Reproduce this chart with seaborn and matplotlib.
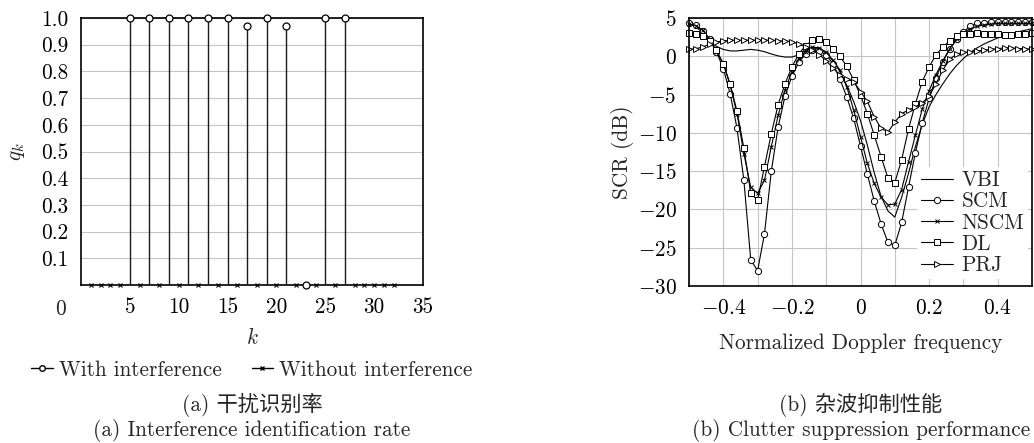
import numpy as np
import pandas as pd
import matplotlib
matplotlib.use('Agg')
import matplotlib.pyplot as plt
import seaborn as sns
from matplotlib.lines import Line2D
from matplotlib.ticker import MultipleLocator, FixedLocator

# (a) interference identification rate
k_with = [5, 7, 9, 11, 13, 15, 17, 19, 21, 23, 25, 27]
q_with = [1.0, 1.0, 1.0, 1.0, 1.0, 1.0, 0.97, 1.0, 0.97, 0.0, 1.0, 1.0]
k_without = [1, 2, 3, 4, 6, 8, 10, 12, 14, 16, 18, 20, 22, 24, 26, 28, 29, 30, 31, 32]
q_without = [0, 0, 0, 0, 0, 0, 0, 0, 0, 0, 0, 0, 0, 0, 0, 0, 0, 0, 0, 0]

# (b) clutter suppression performance
freq = [-0.50, -0.48, -0.46, -0.44, -0.42, -0.40, -0.38, -0.36, -0.34, -0.32,
        -0.30, -0.28, -0.26, -0.24, -0.22, -0.20, -0.18, -0.16, -0.14, -0.12,
        -0.10, -0.08, -0.06, -0.04, -0.02, 0.00, 0.02, 0.04, 0.06, 0.08,
        0.10, 0.12, 0.14, 0.16, 0.18, 0.20, 0.22, 0.24, 0.26, 0.28,
        0.30, 0.32, 0.34, 0.36, 0.38, 0.40, 0.42, 0.44, 0.46, 0.48, 0.50]
vbi = [4.3, 3.9, 3.0, 2.0, 1.3, 0.9, 0.7, 0.7, 0.8, 0.9,
       0.8, 0.6, 0.3, 0.05, -0.1, -0.1, 0.2, 0.8, 1.1, 1.0,
       0.4, -0.6, -2.0, -3.8, -5.9, -8.4, -11.6, -15.2, -18.3, -20.2,
       -21.0, -18.4, -15.3, -11.8, -8.9, -6.6, -5.0, -3.6, -2.3, -1.2,
       -0.3, 0.5, 1.1, 1.6, 2.0, 2.4, 2.7, 3.0, 3.2, 3.4, 3.6]
scm = [4.4, 4.1, 3.3, 2.2, 0.6, -1.6, -4.9, -9.4, -16.2, -26.6,
       -28.0, -23.2, -15.0, -9.2, -5.2, -2.6, -0.8, 0.3, 0.8, 0.7,
       0.2, -1.0, -3.0, -5.3, -8.1, -11.7, -15.4, -18.9, -21.9, -24.3,
       -24.7, -21.7, -17.1, -12.6, -8.7, -5.5, -2.8, -0.7, 0.9, 2.2,
       3.2, 3.9, 4.3, 4.4, 4.5, 4.5, 4.5, 4.5, 4.5, 4.5, 4.5]
nscm = [4.2, 4.0, 3.4, 2.3, 0.6, -0.9, -3.8, -7.5, -12.7, -17.1,
        -17.9, -16.2, -11.8, -7.7, -4.4, -2.0, -0.4, 0.6, 1.2, 1.1,
        0.5, -0.5, -1.8, -4.0, -7.0, -10.5, -14.0, -16.6, -18.4, -19.4,
        -19.3, -17.4, -13.8, -10.3, -6.9, -4.5, -2.4, -0.6, 1.0, 2.2,
        3.0, 3.6, 3.9, 4.1, 4.2, 4.3, 4.3, 4.3, 4.3, 4.3, 4.3]
dl = [3.0, 2.9, 2.6, 2.0, 0.8, -1.0, -3.6, -7.2, -12.0, -17.9,
      -18.8, -14.4, -10.1, -6.3, -3.6, -1.4, 0.3, 1.4, 2.1, 2.3,
      1.9, 1.0, 0.0, -1.3, -3.1, -5.1, -7.5, -10.3, -13.1, -15.9,
      -16.5, -13.5, -9.5, -6.2, -3.3, -1.4, 0.2, 1.2, 2.0, 2.6,
      2.9, 2.9, 3.0, 2.9, 2.9, 2.9, 2.8, 2.8, 2.9, 2.9, 3.0]
prj = [0.9, 1.0, 1.2, 1.6, 1.9, 2.0, 2.1, 2.1, 2.1, 2.1,
       2.1, 2.1, 2.1, 2.0, 2.0, 1.9, 1.6, 1.2, 0.8, 0.2,
       -0.6, -1.5, -2.5, -3.0, -3.3, -4.6, -5.9, -7.9, -9.4, -9.9,
       -8.6, -7.5, -7.0, -6.6, -6.1, -5.2, -3.6, -1.8, -0.4, 0.3,
       0.5, 0.6, 0.7, 0.8, 0.9, 1.0, 1.1, 1.1, 1.0, 1.0, 0.9]

sns.set_theme(style='whitegrid')
plt.rcParams['font.family'] = ['cmr10', 'Noto Sans CJK SC', 'DejaVu Sans']
plt.rcParams['mathtext.fontset'] = 'cm'
plt.rcParams['axes.formatter.use_mathtext'] = True
FS = 15.3

fig = plt.figure(figsize=(10.34, 4.43), dpi=100)
W, H = 1034, 443
ax1 = fig.add_axes([81 / W, 1 - 285 / H, (423 - 81) / W, (285 - 18) / H])
ax2 = fig.add_axes([689 / W, 1 - 286 / H, (1032 - 689) / W, (286 - 18) / H])

for ax in (ax1, ax2):
    ax.set_facecolor('white')
    for s in ax.spines.values():
        s.set_color('black')
        s.set_linewidth(1.2)
    ax.grid(True, which='both', color='#c4c4c4', linewidth=0.8)
    ax.tick_params(which='both', direction='in', length=0, labelsize=FS, colors='black', pad=9)

# ---- left: stems ----
ax1.vlines(k_with, 0, q_with, color='#1a1a1a', linewidth=1.0, zorder=3)
sns.lineplot(x=k_with, y=q_with, ax=ax1, linestyle='', marker='o', markersize=5,
             markerfacecolor='white', markeredgecolor='black', markeredgewidth=0.9,
             color='black', clip_on=False, zorder=4)
sns.lineplot(x=k_without, y=q_without, ax=ax1, linestyle='', marker='x', markersize=3,
             markeredgecolor='black', markeredgewidth=0.8, color='black',
             clip_on=False, zorder=4)
ax1.set_xlim(0, 35)
ax1.set_ylim(0, 1.0)
ax1.set_xticks([5, 10, 15, 20, 25, 30, 35])
ax1.xaxis.set_minor_locator(FixedLocator([10, 20, 30]))
ax1.grid(False, axis='x', which='major')
ax1.grid(True, axis='x', which='minor', color='#c4c4c4', linewidth=0.8)
ax1.set_yticks([0.1, 0.2, 0.3, 0.4, 0.5, 0.6, 0.7, 0.8, 0.9, 1.0])
ax1.yaxis.set_major_formatter(plt.FuncFormatter(lambda v, p: f'{v:.1f}'))
ax1.xaxis.set_major_formatter(plt.FuncFormatter(lambda v, p: f'{v:.0f}'))
ax1.text(61 / W, 1 - 309 / H, '0', transform=fig.transFigure, ha='center', va='center', fontsize=FS)
ax1.set_xlabel('$k$', fontsize=FS)
ax1.xaxis.set_label_coords(0.5, -(338 - 285) / 267)
ax1.xaxis.label.set_va('center')
ax1.set_ylabel('$q_k$', fontsize=FS)
ax1.yaxis.set_label_coords(-(81 - 17) / 342, 0.5)
ax1.yaxis.label.set_va('center')

h_with = Line2D([], [], color='black', lw=1.0, marker='o', markersize=4,
                markerfacecolor='white', markeredgecolor='black')
h_without = Line2D([], [], color='black', lw=1.0, marker='x', markersize=3)
ax1.legend([h_with, h_without], ['With interference', 'Without interference'],
           loc='center', bbox_to_anchor=(0.5, -(370 - 285) / 267), ncol=2, frameon=False,
           fontsize=FS, handlelength=1.0, handletextpad=0.3, columnspacing=1.4)

# ---- right: SCR curves ----
curves = pd.DataFrame({'freq': freq, 'VBI': vbi, 'SCM': scm, 'NSCM': nscm, 'DL': dl, 'PRJ': prj})
styles = {'VBI': (None, 0), 'SCM': ('o', 4.5), 'NSCM': ('x', 3.5), 'DL': ('s', 4), 'PRJ': ('>', 5)}
for name, (mk, ms) in styles.items():
    kw = dict(marker=mk, markersize=ms, markerfacecolor='white', markeredgecolor='black',
              markeredgewidth=0.7) if mk else {}
    sns.lineplot(data=curves, x='freq', y=name, ax=ax2, color='black', linewidth=0.8,
                 label=name, clip_on=False, **kw)
ax2.set_xlim(-0.5, 0.5)
ax2.set_ylim(-30, 5)
ax2.xaxis.set_minor_locator(MultipleLocator(0.1))
ax2.yaxis.set_major_locator(MultipleLocator(5))
ax2.set_xticks([-0.4, -0.2, 0, 0.2, 0.4])
ax2.xaxis.set_major_formatter(plt.FuncFormatter(lambda v, p: '$0$' if abs(v) < 1e-9 else f'${v:.1f}$'))
ax2.yaxis.set_major_formatter(plt.FuncFormatter(lambda v, p: f'${v:.0f}$'))
ax2.set_xlabel('Normalized Doppler frequency', fontsize=FS)
ax2.xaxis.set_label_coords(0.5, -(343 - 286) / 268)
ax2.xaxis.label.set_va('center')
ax2.set_ylabel('SCR (dB)', fontsize=FS)
ax2.yaxis.set_label_coords(-(689 - 622) / 343, 0.5)
ax2.yaxis.label.set_va('center')
leg = ax2.legend(loc='lower right', bbox_to_anchor=(1.02, -0.015), fontsize=FS, frameon=True,
                 facecolor='white', edgecolor='none', framealpha=1, fancybox=False,
                 handlelength=1.5, handletextpad=0.4, labelspacing=0.08, borderpad=0.2)

# captions
fig.text(252 / W, 1 - 405 / H, '(a) 干扰识别率', ha='center', va='center', fontsize=FS)
fig.text(252 / W, 1 - 430 / H, '(a) Interference identification rate', ha='center', va='center', fontsize=FS)
fig.text(861 / W, 1 - 405 / H, '(b) 杂波抑制性能', ha='center', va='center', fontsize=FS)
fig.text(861 / W, 1 - 430 / H, '(b) Clutter suppression performance', ha='center', va='center', fontsize=FS)

fig.savefig('out.png', dpi=100, facecolor='white')
